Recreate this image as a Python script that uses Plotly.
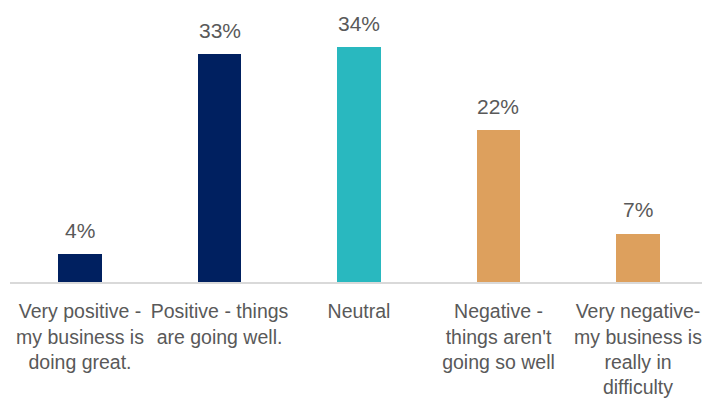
import plotly.graph_objects as go

categories = [
    "Very positive -<br>my business is<br>doing great.",
    "Positive - things<br>are going well.",
    "Neutral",
    "Negative -<br>things aren't<br>going so well",
    "Very negative-<br>my business is<br>really in<br>difficulty",
]
values = [4, 33, 34, 22, 7]
value_labels = ["4%", "33%", "34%", "22%", "7%"]
colors = ["#002060", "#002060", "#29B8BF", "#DDA05D", "#DDA05D"]

FONT = "Liberation Sans, Arial, sans-serif"
TXT = "#595959"

x = list(range(len(categories)))

fig = go.Figure()
fig.add_trace(go.Bar(
    x=x, y=values, marker=dict(color=colors, line=dict(width=0)),
    width=0.315, hoverinfo="skip",
))

for xi, v, lab in zip(x, values, value_labels):
    fig.add_annotation(x=xi, y=v, text=lab, showarrow=False, yanchor="middle",
                       yshift=24, font=dict(family=FONT, size=21, color=TXT))

fig.update_layout(
    width=702, height=405,
    margin=dict(l=10, r=0, t=10, b=123, autoexpand=False),
    paper_bgcolor="white", plot_bgcolor="white",
    showlegend=False,
    bargap=0,
    xaxis=dict(
        tickvals=x, ticktext=categories, range=[-0.502, 4.459],
        showline=True, linecolor="#D9D9D9", linewidth=2,
        showgrid=False, zeroline=False, ticks="",
        tickangle=0, automargin=False, ticklabeloverflow="allow",
        ticklabelstandoff=11,
        tickfont=dict(family=FONT, size=19.5, color=TXT),
    ),
    yaxis=dict(range=[0, 39.4], visible=False, showgrid=False, zeroline=False,
               automargin=False),
)

fig.write_html(
    "out.html",
    config={"displayModeBar": False},
    post_script="document.body.style.margin='0';document.body.style.overflow='hidden';",
)
